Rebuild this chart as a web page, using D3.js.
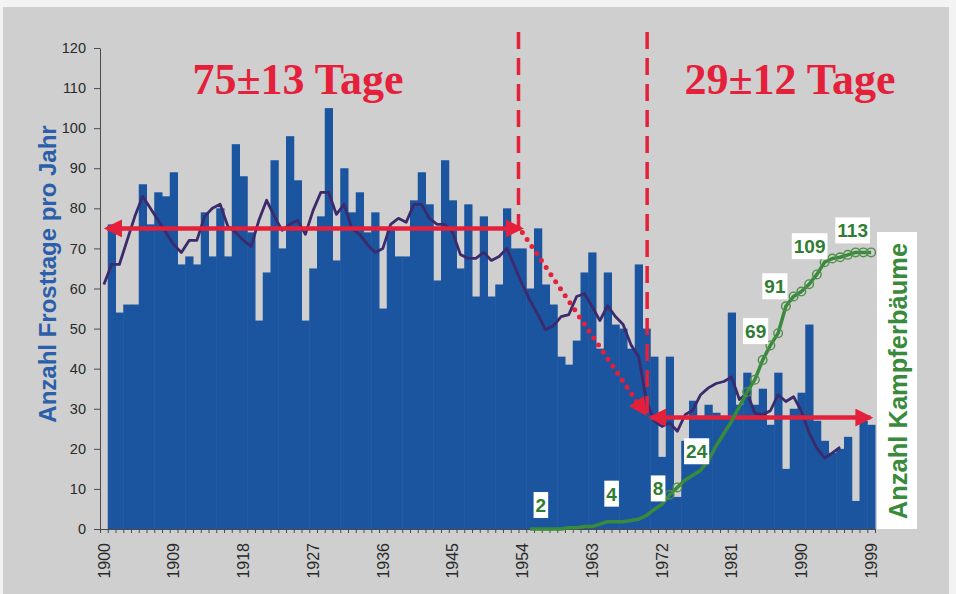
<!DOCTYPE html>
<html>
<head>
<meta charset="utf-8">
<script src="https://cdn.jsdelivr.net/npm/d3@7"></script>
<style>
  html, body { margin: 0; padding: 0; background: #fff; }
  #graf { width: 956px; height: 594px; }
  .eje text { font-family: Arial, 'Liberation Sans', sans-serif; fill: #2a2a2a; }
  .eje path, .eje line { stroke: #4a4a4a; }
</style>
</head>
<body>
<div id="graf"></div>
<script>
// I. Datos (Winter 1900/01 ... 1998/99)
jahre = d3.range(1900, 2000)
balkenJahre = d3.range(1901, 2000)
frosttage = [76, 54, 56, 56, 86, 76, 84, 83, 89, 66,
             68, 66, 79, 68, 80, 68, 96, 88, 74, 52,
             64, 92, 70, 98, 87, 52, 65, 78, 105, 67,
             90, 79, 84, 74, 79, 55, 75, 68, 68, 82,
             89, 81, 62, 92, 82, 65, 81, 58, 78, 58,
             61, 80, 70, 70, 60, 75, 61, 56, 43, 41,
             47, 64, 69, 45, 64, 51, 50, 45, 66, 50,
             43, 18, 43, 8, 22, 32, 28, 31, 29, 28,
             54, 31, 39, 31, 35, 26, 39, 15, 30, 34,
             51, 27, 22, 19, 20, 23, 7, 27, 26]

// gleitendes Mittel (dunkle Linie)
mittelJahre = d3.range(1900, 1996)
mittel = [61, 66, 66, 72, 78, 83, 80, 77, 74, 71,
          69, 72, 72, 78, 80, 81, 75.5, 74, 72, 70.5,
          77, 82, 78, 74.5, 76, 77, 73.5, 79.5, 84, 84,
          78.5, 81, 75, 73.5, 71, 69, 70, 76, 77.5, 76.5,
          81, 81, 77.5, 76, 76, 74, 68.5, 67.5, 67.5, 69,
          67, 68, 70, 65.5, 61, 57, 53.5, 49.7, 50.7, 53,
          53.5, 58, 58.7, 55.5, 52, 55.7, 53, 51, 46, 43,
          32, 27, 25.6, 26.5, 24.4, 28.5, 29.7, 33.5, 35.2, 36.3,
          36.8, 37.9, 32.3, 33.9, 28.9, 28.5, 29.5, 33.5, 31.8, 33,
          29.4, 24, 20.2, 17.7, 19, 20.4]

// Anzahl Kampferbäume (grüne Linie, zweite Achse)
baumJahre = d3.range(1955, 2000)
baeume = [0, 0, 0, 0, 0,
          0.5, 0.5, 1, 1, 2,
          3, 3, 3, 3.5, 4,
          5.5, 8, 10, 14, 17,
          20, 22, 24, 28, 34,
          39, 44, 50, 56, 61,
          69, 75, 80, 91, 95,
          97, 100, 104, 109, 110.5,
          111, 112, 113, 113, 113]

labelJahre = [1956, 1965, 1971, 1977, 1985, 1988, 1993, 1997]
labelTexte = ['2', '4', '8', '24', '69', '91', '109', '113']

tickJahre = d3.range(1900, 2000, 9)
yTicks = d3.range(0, 121, 10)

mittelwerte = ['75±13 Tage', '29±12 Tage']

// II. Configuración
graf = d3.select('#graf')
ancho_total = 956
alto_total = 594
margins = { top: 48, left: 100, right: 81, bottom: 65 }
ancho = ancho_total - margins.left - margins.right
alto = alto_total - margins.top - margins.bottom

rot = '#e4203a'
blau = '#1b559f'
gruen = '#3a8a3c'

svg = graf.append('svg')
          .attr('width', ancho_total)
          .attr('height', alto_total)

svg.append('rect')
   .attr('width', ancho_total).attr('height', alto_total)
   .attr('fill', '#f3f3f3')
svg.append('rect')
   .attr('x', 3).attr('y', 7)
   .attr('width', 946).attr('height', 587)
   .attr('fill', '#cfcfcf')

defs = svg.append('defs')
defs.append('marker')
    .attr('id', 'spitze')
    .attr('viewBox', '0 0 18 18')
    .attr('refX', 15).attr('refY', 9)
    .attr('markerWidth', 18).attr('markerHeight', 18)
    .attr('markerUnits', 'userSpaceOnUse')
    .attr('orient', 'auto-start-reverse')
  .append('path')
    .attr('d', 'M0,0 L18,9 L0,18 Z')
    .attr('fill', rot)

g = svg.append('g')
       .attr('transform', `translate(${ margins.left }, ${ margins.top })`)

// escaladores
x = d3.scaleBand().domain(jahre).range([0, ancho]).padding(0)
xl = d3.scaleLinear().domain([1900, 2000]).range([0, ancho])
y = d3.scaleLinear().domain([0, 120]).range([alto, 0])
y2 = d3.scaleLinear().domain([0, 196.5]).range([alto, 0])
mitte = j => x(j) + x.bandwidth() / 2

// III. Balken
g.selectAll('rect.balken')
 .data(balkenJahre.map((j, i) => ({ jahr: j, wert: frosttage[i] })))
 .enter()
 .append('rect')
   .attr('class', 'balken')
   .attr('x', d => x(d.jahr))
   .attr('y', d => y(d.wert))
   .attr('width', x.bandwidth() + 0.5)
   .attr('height', d => alto - y(d.wert))
   .attr('fill', blau)

// Ejes
yAxisGroup = g.append('g').attr('class', 'eje')
yAxisGroup.call(d3.axisLeft(y).tickValues(yTicks).tickSize(6).tickSizeOuter(0).tickPadding(8))
yAxisGroup.selectAll('text').style('font-size', '14.5px')

xTickGroup = g.append('g').attr('class', 'eje')
              .attr('transform', `translate(0, ${ alto })`)
xTickGroup.call(d3.axisBottom(xl).tickValues(d3.range(1900, 2001)).tickSize(4).tickSizeOuter(0).tickFormat(''))

xAxisGroup = g.append('g').attr('class', 'eje')
              .attr('transform', `translate(0, ${ alto })`)
xAxisGroup.call(d3.axisBottom(x).tickValues(tickJahre).tickSize(0))
xAxisGroup.select('.domain').remove()
xAxisGroup.selectAll('text')
          .style('font-size', '16px')
          .attr('transform', 'rotate(-90)')
          .attr('text-anchor', 'end')
          .attr('x', -14)
          .attr('y', 0)
          .attr('dy', '0.36em')

// gleitendes Mittel
linie = d3.line().x(d => mitte(d.jahr)).y(d => y(d.wert))
g.append('path')
 .datum(mittelJahre.map((j, i) => ({ jahr: j, wert: mittel[i] })))
 .attr('d', linie)
 .attr('fill', 'none')
 .attr('stroke', '#3b2a6c')
 .attr('stroke-width', 2.8)
 .attr('stroke-linejoin', 'round')

// rote Markierungen
trenner = [[1954, 124, 75], [1970.6, 124, 28]]
g.selectAll('line.trenner')
 .data(trenner)
 .enter()
 .append('line')
   .attr('x1', d => xl(d[0])).attr('x2', d => xl(d[0]))
   .attr('y1', d => y(d[1])).attr('y2', d => y(d[2]))
   .attr('stroke', rot)
   .attr('stroke-width', 3.5)
   .attr('stroke-dasharray', '17 9')

pfeile = [
  { von: [1900.9, 75], bis: [1954.3, 75], beide: true, punkte: false },
  { von: [1954.5, 74], bis: [1970.3, 28.8], beide: false, punkte: true },
  { von: [1971.1, 27.8], bis: [1999.4, 27.8], beide: true, punkte: false }
]
g.selectAll('line.pfeil')
 .data(pfeile)
 .enter()
 .append('line')
   .attr('x1', d => xl(d.von[0])).attr('y1', d => y(d.von[1]))
   .attr('x2', d => xl(d.bis[0])).attr('y2', d => y(d.bis[1]))
   .attr('stroke', rot)
   .attr('stroke-width', d => d.punkte ? 5 : 4.5)
   .attr('stroke-linecap', d => d.punkte ? 'round' : 'butt')
   .attr('stroke-dasharray', d => d.punkte ? '0 8.5' : null)
   .attr('marker-end', 'url(#spitze)')
   .attr('marker-start', d => d.beide ? 'url(#spitze)' : null)

// Kampferbäume
baumDaten = baumJahre.map((j, i) => ({ jahr: j, wert: baeume[i] }))
linie2 = d3.line().x(d => mitte(d.jahr)).y(d => y2(d.wert))
g.append('path')
 .datum(baumDaten)
 .attr('d', linie2)
 .attr('fill', 'none')
 .attr('stroke', gruen)
 .attr('stroke-width', 3.5)
 .attr('stroke-linejoin', 'round')

g.selectAll('circle.baum')
 .data(baumDaten.filter(d => d.jahr >= 1983 || (d.jahr >= 1973 && d.jahr <= 1974)))
 .enter()
 .append('circle')
   .attr('cx', d => mitte(d.jahr))
   .attr('cy', d => y2(d.wert))
   .attr('r', 4.3)
   .attr('fill', 'none')
   .attr('stroke', '#4f8f4a')
   .attr('stroke-width', 1.4)

// Beschriftungen der Punkte (Versatz der weißen Kästchen)
versatz = [[3, -24], [4, -28], [4, -21], [-4, -19], [-7, -29], [-11, -20], [-15, -16], [-3, -22]]
etiketten = g.selectAll('g.etikett')
             .data(labelJahre.map((j, i) => ({ jahr: j, text: labelTexte[i], wert: baeume[baumJahre.indexOf(j)], d: versatz[i] })))
             .enter()
             .append('g')
               .attr('class', 'etikett')
               .attr('transform', d => `translate(${ mitte(d.jahr) + d.d[0] }, ${ y2(d.wert) + d.d[1] })`)
etiketten.append('rect').attr('fill', '#fff')
etiketten.append('text')
         .attr('text-anchor', 'middle')
         .attr('dy', '0.36em')
         .style('font-family', 'Arial, "Liberation Sans", sans-serif')
         .style('font-weight', 'bold')
         .style('font-size', '19px')
         .attr('fill', '#2f7d33')
         .text(d => d.text)
etiketten.each(function() {
  w = d3.select(this).select('text').node().getComputedTextLength()
  d3.select(this).select('rect')
    .attr('x', -w / 2 - 2).attr('y', -13)
    .attr('width', w + 4).attr('height', 26)
})

// Titel der Zeitabschnitte
svg.selectAll('text.titel')
   .data(mittelwerte)
   .enter()
   .append('text')
     .attr('class', 'titel')
     .attr('x', (d, i) => [298, 790][i])
     .attr('y', 94)
     .attr('text-anchor', 'middle')
     .style('font-family', '"Liberation Serif", "Times New Roman", serif')
     .style('font-weight', 'bold')
     .style('font-size', '44px')
     .attr('fill', rot)
     .text(d => d)

// Achsentitel
svg.append('text')
   .attr('transform', 'translate(47, 274) rotate(-90)')
   .attr('text-anchor', 'middle')
   .attr('dy', '0.36em')
   .style('font-family', 'Arial, "Liberation Sans", sans-serif')
   .style('font-weight', 'bold')
   .style('font-size', '24px')
   .attr('fill', '#2b5fa9')
   .text('Anzahl Frosttage pro Jahr')

svg.append('rect')
   .attr('x', 877).attr('y', 232)
   .attr('width', 40).attr('height', 297)
   .attr('fill', '#fff')
svg.append('text')
   .attr('transform', 'translate(898, 381) rotate(-90)')
   .attr('text-anchor', 'middle')
   .attr('dy', '0.36em')
   .style('font-family', 'Arial, "Liberation Sans", sans-serif')
   .style('font-weight', 'bold')
   .style('font-size', '25.5px')
   .attr('fill', gruen)
   .text('Anzahl Kampferbäume')
</script>
</body>
</html>
